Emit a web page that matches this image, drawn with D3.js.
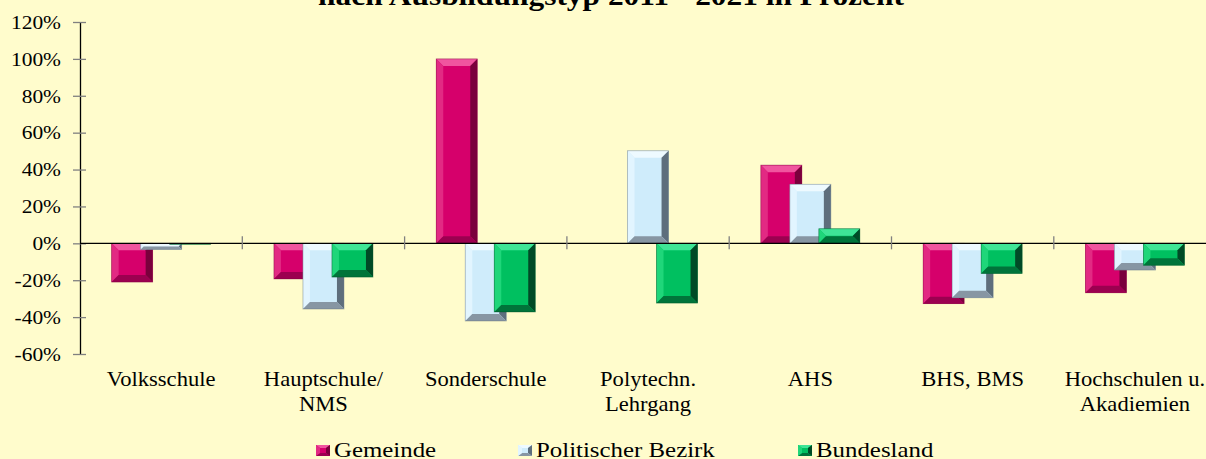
<!DOCTYPE html>
<html>
<head>
<meta charset="utf-8">
<script src="https://cdn.jsdelivr.net/npm/d3@7"></script>
<style>
  html, body { margin: 0; padding: 0; background: #fffccc; }
  svg { display: block; font-family: "Liberation Serif", "Times New Roman", serif; }
</style>
</head>
<body>
<div id="chart"></div>
<script>
const width = 1206;
const height = 459;

const categories = ["Volksschule", "Hauptschule/\nNMS", "Sonderschule", "Polytechn.\nLehrgang",
  "AHS", "BHS, BMS", "Hochschulen u.\nAkadiemien"];
const seriesNames = ["Gemeinde", "Politischer Bezirk", "Bundesland"];
const gemeinde = [-21, -19.3, 100, 0, 42.4, -32.7, -26.8];
const bezirk = [-3.3, -35.6, -42.1, 50.2, 32, -29.5, -14.5];
const bundesland = [-0.5, -18.3, -37.2, -32.4, 7.9, -16.3, -11.9];
const yTicks = [-60, -40, -20, 0, 20, 40, 60, 80, 100, 120];

// base, top, left, right, bottom facets
const palette = [
  { base: "#d6006b", top: "#f0559f", left: "#e22a83", right: "#7a003c", bottom: "#9c0050" },
  { base: "#cfecfb", top: "#eefaff", left: "#e2f5ff", right: "#5e6e7c", bottom: "#8796a3" },
  { base: "#00c060", top: "#3fe596", left: "#1fd67a", right: "#004a26", bottom: "#00743a" }
];

const sx = 1.13; // text is a bit wide in the source
const serif = "Liberation Serif, Times New Roman, serif";

const svg = d3.select("#chart")
  .append("svg")
  .attr("width", width)
  .attr("height", height);

svg.append("rect").attr("width", width).attr("height", height).attr("fill", "#fffccc");

const xScale = d3.scaleBand()
  .domain(categories)
  .range([80, 80 + 7 * 162.3])
  .padding(0);

const yScale = d3.scaleLinear()
  .domain([-60, 120])
  .range([354, 22]);

// title (cut off at the top, as in the source)
svg.append("text")
  .attr("transform", "translate(611,5) scale(" + sx + ",1)")
  .attr("text-anchor", "middle")
  .attr("font-family", serif)
  .attr("font-size", 27.8)
  .attr("font-weight", "bold")
  .text("nach Ausbildungstyp 2011 - 2021 in Prozent");

// y axis
const yAxis = d3.axisLeft(yScale)
  .tickValues(yTicks)
  .tickFormat((d) => d + "%")
  .tickSizeInner(7)
  .tickSizeOuter(0);

const gy = svg.append("g")
  .attr("transform", "translate(80,0)")
  .call(yAxis);
gy.attr("font-family", serif);
gy.select(".domain").attr("stroke", "#000").attr("stroke-width", 1.3);
gy.selectAll(".tick line").attr("x1", 6).attr("stroke", "#808080").attr("stroke-width", 1.3);
gy.selectAll(".tick text")
  .attr("x", -19 / sx)
  .attr("dy", "0.33em")
  .attr("transform", "scale(" + sx + ",1)")
  .attr("font-size", 19)
  .attr("font-family", serif)
  .attr("fill", "#000");

// bars, later series in front
const all = [gemeinde, bezirk, bundesland];
const barW = 41;
const step = 29;

function bevelBar(g, x, y0, y1, col) {
  const top = Math.min(y0, y1), bot = Math.max(y0, y1);
  const h = bot - top;
  if (h < 0.5) return;
  const b = Math.min(7, h / 2, barW / 2);
  const L = x, R = x + barW;
  g.append("rect").attr("x", L).attr("y", top).attr("width", barW).attr("height", h).attr("fill", col.base);
  const poly = (pts, c) => g.append("polygon").attr("points", pts.map((p) => p.join(",")).join(" ")).attr("fill", c);
  poly([[L, top], [R, top], [R - b, top + b], [L + b, top + b]], col.top);
  poly([[L, top], [L + b, top + b], [L + b, bot - b], [L, bot]], col.left);
  poly([[R, top], [R, bot], [R - b, bot - b], [R - b, top + b]], col.right);
  poly([[L, bot], [L + b, bot - b], [R - b, bot - b], [R, bot]], col.bottom);
  g.append("rect").attr("x", L).attr("y", top).attr("width", barW).attr("height", h)
    .attr("fill", "none").attr("stroke", col.right).attr("stroke-opacity", 0.5).attr("stroke-width", 0.8);
}

const barsG = svg.append("g");
all.forEach((vals, s) => {
  vals.forEach((v, i) => {
    const cx = xScale(categories[i]) + xScale.bandwidth() / 2 + (s - 1) * step;
    bevelBar(barsG, cx - barW / 2, yScale(0), yScale(v), palette[s]);
  });
});

// zero line + category ticks
svg.append("line")
  .attr("x1", 80).attr("x2", width)
  .attr("y1", yScale(0)).attr("y2", yScale(0))
  .attr("stroke", "#000").attr("stroke-width", 1.3);

svg.selectAll(".xtick")
  .data(categories.slice(1))
  .enter()
  .append("line")
  .attr("x1", (d) => xScale(d)).attr("x2", (d) => xScale(d))
  .attr("y1", yScale(0) - 7).attr("y2", yScale(0) + 6)
  .attr("stroke", "#808080").attr("stroke-width", 1.3);

// category labels
const labels = svg.selectAll(".cat")
  .data(categories)
  .enter()
  .append("text")
  .attr("class", "cat")
  .attr("transform", (d) => "translate(" + (xScale(d) + xScale.bandwidth() / 2) + ",386) scale(" + sx + ",1)")
  .attr("text-anchor", "middle")
  .attr("font-family", serif)
  .attr("font-size", 20);
labels.each(function (d) {
  d.split("\n").forEach((line, k) => {
    d3.select(this).append("tspan").attr("x", 0).attr("y", k * 25).text(line);
  });
});

// legend
const legendX = [316, 518, 798];
const legend = svg.append("g");
seriesNames.forEach((name, s) => {
  const g = legend.append("g").attr("transform", "translate(" + legendX[s] + ",445)");
  const col = palette[s];
  g.append("rect").attr("width", 14).attr("height", 11).attr("fill", col.base);
  g.append("polygon").attr("points", "0,0 14,0 10,3 4,3").attr("fill", col.top);
  g.append("polygon").attr("points", "14,0 14,11 10,8 10,3").attr("fill", col.right);
  g.append("polygon").attr("points", "0,11 4,8 10,8 14,11").attr("fill", col.bottom);
  g.append("polygon").attr("points", "0,0 4,3 4,8 0,11").attr("fill", col.left);
  g.append("text")
    .attr("transform", "translate(18,11.8) scale(" + sx + ",1)")
    .attr("font-family", serif)
    .attr("font-size", 22)
    .text(name);
});
</script>
</body>
</html>
